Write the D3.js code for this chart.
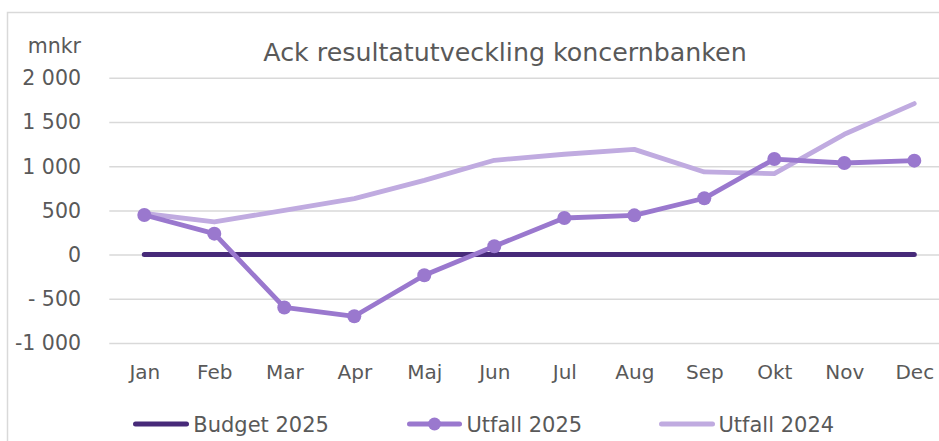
<!DOCTYPE html>
<html>
<head>
<meta charset="utf-8">
<script src="https://cdn.jsdelivr.net/npm/d3@7"></script>
<style>
  html, body { margin: 0; padding: 0; background: #fff; }
  svg { display: block; }
  text { font-family: "DejaVu Sans", Verdana, sans-serif; fill: #595959; }
</style>
</head>
<body>
<svg id="chart" width="939" height="441"></svg>
<script>
const months = ["Jan","Feb","Mar","Apr","Maj","Jun","Jul","Aug","Sep","Okt","Nov","Dec"];
const budget2025 = [0,0,0,0,0,0,0,0,0,0,0,0];
const utfall2025 = [448,237,-598,-698,-234,94,414,444,637,1081,1036,1063];
const utfall2024 = [465,369,501,633,840,1067,1135,1190,935,916,1361,1708];
const yTicks = [-1000,-500,0,500,1000,1500,2000];
const yTickLabels = ["-1 000","- 500","0","500","1 000","1 500","2 000"];
const title = "Ack resultatutveckling koncernbanken";
const unitLabel = "mnkr";
const seriesNames = ["Budget 2025","Utfall 2025","Utfall 2024"];
const colors = ["#472a79","#9a78ce","#c0abe0"];

const svg = d3.select("#chart");

// frame
svg.append("rect").attr("x",7.5).attr("y",12.5).attr("width",1000).attr("height",1000)
  .attr("fill","none").attr("stroke","#d9d9d9").attr("stroke-width",1.5);

const x = d3.scalePoint().domain(months).range([109.3, 949.3]).padding(0.5);
const y = d3.scaleLinear().domain([-1000, 2000]).range([343, 77.8]);

// gridlines
const yAxis = d3.axisLeft(y).tickValues(yTicks).tickSize(-(949.3-109.3)).tickFormat("");
const gy = svg.append("g").attr("transform","translate(109.3,0)").call(yAxis);
gy.select(".domain").remove();
gy.selectAll(".tick line").attr("stroke","#d9d9d9").attr("stroke-width",1.5);

// y tick labels
svg.append("g").selectAll("text").data(yTicks).join("text")
  .attr("x",81).attr("y",d=>y(d)).attr("dy","0.36em")
  .attr("text-anchor","end").attr("font-size",20.5)
  .text((d,i)=>yTickLabels[i]);

// x labels
const xAxis = d3.axisBottom(x).tickSize(0).tickPadding(0);
const gx = svg.append("g").attr("transform","translate(0,379)").call(xAxis);
gx.select(".domain").remove();
gx.selectAll(".tick text").attr("y",0).attr("dy",0).attr("font-size",20)
  .attr("font-family","DejaVu Sans, Verdana, sans-serif").attr("fill","#595959");

// title & unit
svg.append("text").attr("x",505).attr("y",61).attr("text-anchor","middle")
  .attr("font-size",25.3).text(title);
svg.append("text").attr("x",81).attr("y",53).attr("text-anchor","end")
  .attr("font-size",20.5).text(unitLabel);

const line = d3.line().x((d,i)=>x(months[i])).y(d=>y(d));

// Utfall 2024
svg.append("path").datum(utfall2024).attr("d",line).attr("fill","none")
  .attr("stroke",colors[2]).attr("stroke-width",4.8)
  .attr("stroke-linejoin","round").attr("stroke-linecap","round");

// Budget 2025
svg.append("path").datum(budget2025).attr("d",line).attr("fill","none")
  .attr("stroke",colors[0]).attr("stroke-width",5)
  .attr("stroke-linejoin","round").attr("stroke-linecap","round");

// Utfall 2025
svg.append("path").datum(utfall2025).attr("d",line).attr("fill","none")
  .attr("stroke",colors[1]).attr("stroke-width",4.8)
  .attr("stroke-linejoin","round").attr("stroke-linecap","round");
svg.append("g").selectAll("circle").data(utfall2025).join("circle")
  .attr("cx",(d,i)=>x(months[i])).attr("cy",d=>y(d)).attr("r",7)
  .attr("fill",colors[1]);

// legend
const legend = [
  {name: seriesNames[0], color: colors[0], x1: 135.5, x2: 186.5, tx: 193.3, marker: false},
  {name: seriesNames[1], color: colors[1], x1: 409.5, x2: 459.5, tx: 466.5, marker: true},
  {name: seriesNames[2], color: colors[2], x1: 661.5, x2: 712.5, tx: 718.5, marker: false}
];
const lg = svg.append("g");
legend.forEach(l => {
  lg.append("line").attr("x1",l.x1).attr("x2",l.x2).attr("y1",424).attr("y2",424)
    .attr("stroke",l.color).attr("stroke-width",5).attr("stroke-linecap","round");
  if (l.marker) lg.append("circle").attr("cx",(l.x1+l.x2)/2).attr("cy",424).attr("r",6.5).attr("fill",l.color);
  lg.append("text").attr("x",l.tx).attr("y",431.5).attr("font-size",21).text(l.name);
});
</script>
</body>
</html>
